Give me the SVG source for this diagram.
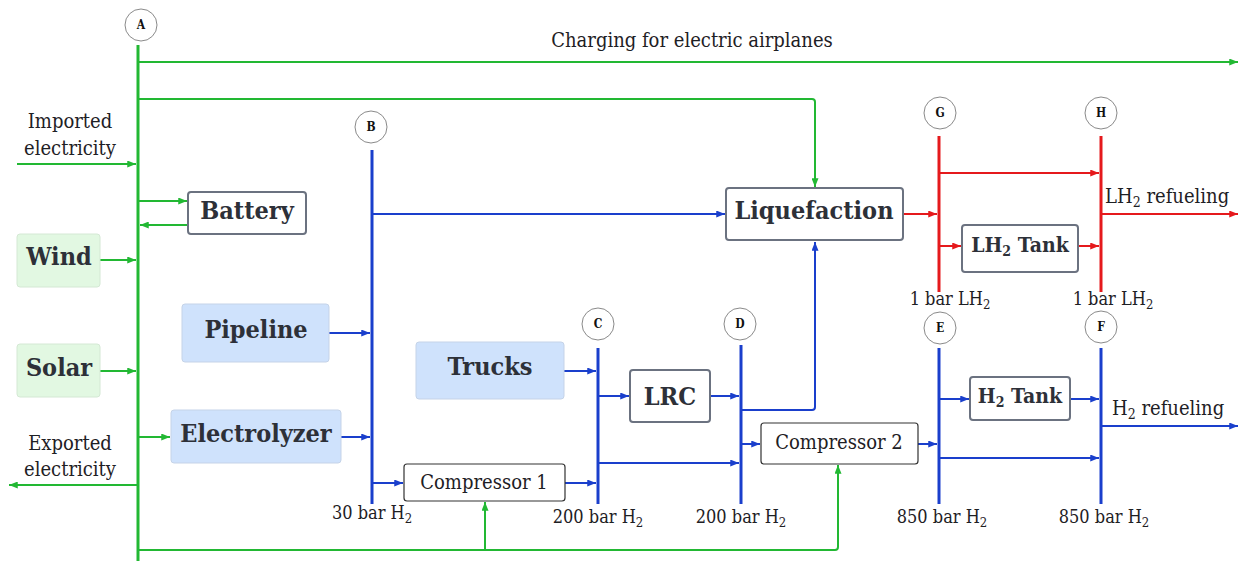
<svg xmlns="http://www.w3.org/2000/svg" width="1239" height="561" viewBox="0 0 1239 561">
<style>
text{font-family:"DejaVu Serif Condensed","DejaVu Serif","Liberation Serif",serif;fill:#1e2024}
.lbl{font-size:20px}
.sm{font-size:18px}
.cmp{font-size:20px}
.big{font-size:25px;font-weight:bold;fill:#2d3038}
.mid{font-size:21px;font-weight:bold;fill:#2d3038}
.circ{fill:#fff;stroke:#8a8a8a;stroke-width:1}
.ct{font-size:12px;font-weight:bold;fill:#111}
.box{fill:#fff;stroke:#6b7280;stroke-width:2}
.cbox{fill:#fff;stroke:#333;stroke-width:1.2}
.gbox{fill:#e2f8e2;stroke:#d4e8d4;stroke-width:1}
.bbox{fill:#cfe2fc;stroke:#c5d3e8;stroke-width:1}
.g{stroke:#22b833;fill:none;stroke-width:2}
.b{stroke:#1a3fcc;fill:none;stroke-width:2}
.r{stroke:#e5191c;fill:none;stroke-width:2}
.gbus{stroke:#22b833;stroke-width:3}
.bbus{stroke:#1a3fcc;stroke-width:3}
.rbus{stroke:#e5191c;stroke-width:3}
</style>
<defs>
<marker id="ag" viewBox="0 0 10 8" refX="10" refY="4" markerWidth="10" markerHeight="7" markerUnits="userSpaceOnUse" orient="auto"><path d="M0,0 L10,4 L0,8 z" fill="#22b833"/></marker>
<marker id="ab" viewBox="0 0 10 8" refX="10" refY="4" markerWidth="10" markerHeight="7" markerUnits="userSpaceOnUse" orient="auto"><path d="M0,0 L10,4 L0,8 z" fill="#1a3fcc"/></marker>
<marker id="ar" viewBox="0 0 10 8" refX="10" refY="4" markerWidth="10" markerHeight="7" markerUnits="userSpaceOnUse" orient="auto"><path d="M0,0 L10,4 L0,8 z" fill="#e5191c"/></marker>
</defs>

<g id="connectors">
<line class="gbus" x1="138" y1="45" x2="138" y2="561"/>
<line class="bbus" x1="372" y1="150" x2="372" y2="504"/>
<line class="bbus" x1="598" y1="348" x2="598" y2="504"/>
<line class="bbus" x1="741" y1="345" x2="741" y2="504"/>
<line class="bbus" x1="939" y1="348" x2="939" y2="504"/>
<line class="bbus" x1="1101" y1="348" x2="1101" y2="504"/>
<line class="rbus" x1="939" y1="136" x2="939" y2="292"/>
<line class="rbus" x1="1101" y1="136" x2="1101" y2="292"/>
<path class="g" d="M139,62 H1238" stroke="#2aaa3a" stroke-width="2.5" marker-end="url(#ag)"/>
<path class="g" d="M139,99 H812 Q815,99 815,102 V187" marker-end="url(#ag)"/>
<path class="g" d="M17,164 H136" marker-end="url(#ag)"/>
<path class="g" d="M139,201 H187" marker-end="url(#ag)"/>
<path class="g" d="M188,225 H140" marker-end="url(#ag)"/>
<path class="g" d="M100,260 H136" marker-end="url(#ag)"/>
<path class="g" d="M100,371 H136" marker-end="url(#ag)"/>
<path class="g" d="M139,437 H170" marker-end="url(#ag)"/>
<path class="g" d="M137,485 H9" marker-end="url(#ag)"/>
<path class="g" d="M139,550 H835 Q838,550 838,547 V465" marker-end="url(#ag)"/>
<path class="g" d="M485,550 V502" marker-end="url(#ag)"/>
<path class="b" d="M373,214 H725" marker-end="url(#ab)"/>
<path class="b" d="M329,333 H370" marker-end="url(#ab)"/>
<path class="b" d="M341,437 H370" marker-end="url(#ab)"/>
<path class="b" d="M373,483 H403" marker-end="url(#ab)"/>
<path class="b" d="M565,483 H596" marker-end="url(#ab)"/>
<path class="b" d="M564,371 H596" marker-end="url(#ab)"/>
<path class="b" d="M599,396 H629" marker-end="url(#ab)"/>
<path class="b" d="M710,396 H739" marker-end="url(#ab)"/>
<path class="b" d="M599,463 H739" marker-end="url(#ab)"/>
<path class="b" d="M742,410 H812 Q815,410 815,407 V242" marker-end="url(#ab)"/>
<path class="b" d="M742,444 H760" marker-end="url(#ab)"/>
<path class="b" d="M918,444 H937" marker-end="url(#ab)"/>
<path class="b" d="M940,399 H969" marker-end="url(#ab)"/>
<path class="b" d="M1070,399 H1099" marker-end="url(#ab)"/>
<path class="b" d="M940,458 H1099" marker-end="url(#ab)"/>
<path class="b" d="M1102,426 H1238" marker-end="url(#ab)"/>
<path class="r" d="M903,214 H937" marker-end="url(#ar)"/>
<path class="r" d="M940,173 H1099" marker-end="url(#ar)"/>
<path class="r" d="M940,246 H961" marker-end="url(#ar)"/>
<path class="r" d="M1078,246 H1099" marker-end="url(#ar)"/>
<path class="r" d="M1102,214 H1238" marker-end="url(#ar)"/>
</g>

<g id="labels">
<text class="lbl" x="692" y="47" text-anchor="middle">Charging for electric airplanes</text>
<text class="lbl" x="70" y="128" text-anchor="middle">Imported</text>
<text class="lbl" x="70" y="155" text-anchor="middle">electricity</text>
<text class="lbl" x="70" y="450" text-anchor="middle">Exported</text>
<text class="lbl" x="70" y="476" text-anchor="middle">electricity</text>
<text class="sm" x="372" y="519" text-anchor="middle">30 bar H<tspan font-size="13" dy="4">2</tspan></text>
<text class="sm" x="598" y="523" text-anchor="middle">200 bar H<tspan font-size="13" dy="4">2</tspan></text>
<text class="sm" x="741" y="523" text-anchor="middle">200 bar H<tspan font-size="13" dy="4">2</tspan></text>
<text class="sm" x="942" y="523" text-anchor="middle">850 bar H<tspan font-size="13" dy="4">2</tspan></text>
<text class="sm" x="1104" y="523" text-anchor="middle">850 bar H<tspan font-size="13" dy="4">2</tspan></text>
<text class="sm" x="950" y="305" text-anchor="middle">1 bar LH<tspan font-size="13" dy="4">2</tspan></text>
<text class="sm" x="1113" y="305" text-anchor="middle">1 bar LH<tspan font-size="13" dy="4">2</tspan></text>
<text class="lbl" x="1105" y="203">LH<tspan font-size="14" dy="4">2</tspan><tspan dy="-4"> refueling</tspan></text>
<text class="lbl" x="1112" y="415">H<tspan font-size="14" dy="4">2</tspan><tspan dy="-4"> refueling</tspan></text>
</g>

<g id="node-A"><circle class="circ" cx="141" cy="25" r="16"/><text class="ct" x="141" y="29" text-anchor="middle">A</text></g>
<g id="node-B"><circle class="circ" cx="371" cy="127" r="16"/><text class="ct" x="371" y="131" text-anchor="middle">B</text></g>
<g id="node-C"><circle class="circ" cx="598" cy="324" r="16"/><text class="ct" x="598" y="328" text-anchor="middle">C</text></g>
<g id="node-D"><circle class="circ" cx="740" cy="324" r="16"/><text class="ct" x="740" y="328" text-anchor="middle">D</text></g>
<g id="node-E"><circle class="circ" cx="940" cy="328" r="16"/><text class="ct" x="940" y="332" text-anchor="middle">E</text></g>
<g id="node-F"><circle class="circ" cx="1101" cy="327" r="16"/><text class="ct" x="1101" y="331" text-anchor="middle">F</text></g>
<g id="node-G"><circle class="circ" cx="940" cy="113" r="16"/><text class="ct" x="940" y="117" text-anchor="middle">G</text></g>
<g id="node-H"><circle class="circ" cx="1101" cy="113" r="16"/><text class="ct" x="1101" y="117" text-anchor="middle">H</text></g>

<g id="battery"><rect class="box" x="188" y="192" width="118" height="42" rx="3"/><text class="big" x="247" y="219" text-anchor="middle" font-size="24">Battery</text></g>
<g id="wind"><rect class="gbox" x="17" y="234" width="83" height="53" rx="3"/><text class="big" x="59" y="265" text-anchor="middle">Wind</text></g>
<g id="solar"><rect class="gbox" x="17" y="344" width="83" height="53" rx="3"/><text class="big" x="59" y="376" text-anchor="middle">Solar</text></g>
<g id="pipeline"><rect class="bbox" x="182" y="304" width="147" height="58" rx="3"/><text class="big" x="256" y="338" text-anchor="middle">Pipeline</text></g>
<g id="electrolyzer"><rect class="bbox" x="171" y="410" width="170" height="53" rx="3"/><text class="big" x="256" y="442" text-anchor="middle">Electrolyzer</text></g>
<g id="trucks"><rect class="bbox" x="416" y="342" width="148" height="57" rx="3"/><text class="big" x="490" y="375" text-anchor="middle">Trucks</text></g>
<g id="compressor1"><rect class="cbox" x="404" y="464" width="161" height="37" rx="3"/><text class="cmp" x="484" y="489" text-anchor="middle">Compressor 1</text></g>
<g id="lrc"><rect class="box" x="630" y="370" width="80" height="52" rx="3"/><text class="big" x="670" y="405" text-anchor="middle" font-size="28">LRC</text></g>
<g id="compressor2"><rect class="cbox" x="761" y="423" width="157" height="41" rx="3"/><text class="cmp" x="839" y="449" text-anchor="middle">Compressor 2</text></g>
<g id="liquefaction"><rect class="box" x="726" y="188" width="177" height="52" rx="3"/><text class="big" x="814" y="219" text-anchor="middle">Liquefaction</text></g>
<g id="lh2tank"><rect class="box" x="962" y="225" width="116" height="47" rx="3"/><text class="mid" x="1020" y="252" text-anchor="middle">LH<tspan font-size="14" dy="4">2</tspan><tspan dy="-4"> Tank</tspan></text></g>
<g id="h2tank"><rect class="box" x="970" y="377" width="100" height="43" rx="3"/><text class="mid" x="1020" y="403" text-anchor="middle">H<tspan font-size="14" dy="4">2</tspan><tspan dy="-4"> Tank</tspan></text></g>
</svg>
